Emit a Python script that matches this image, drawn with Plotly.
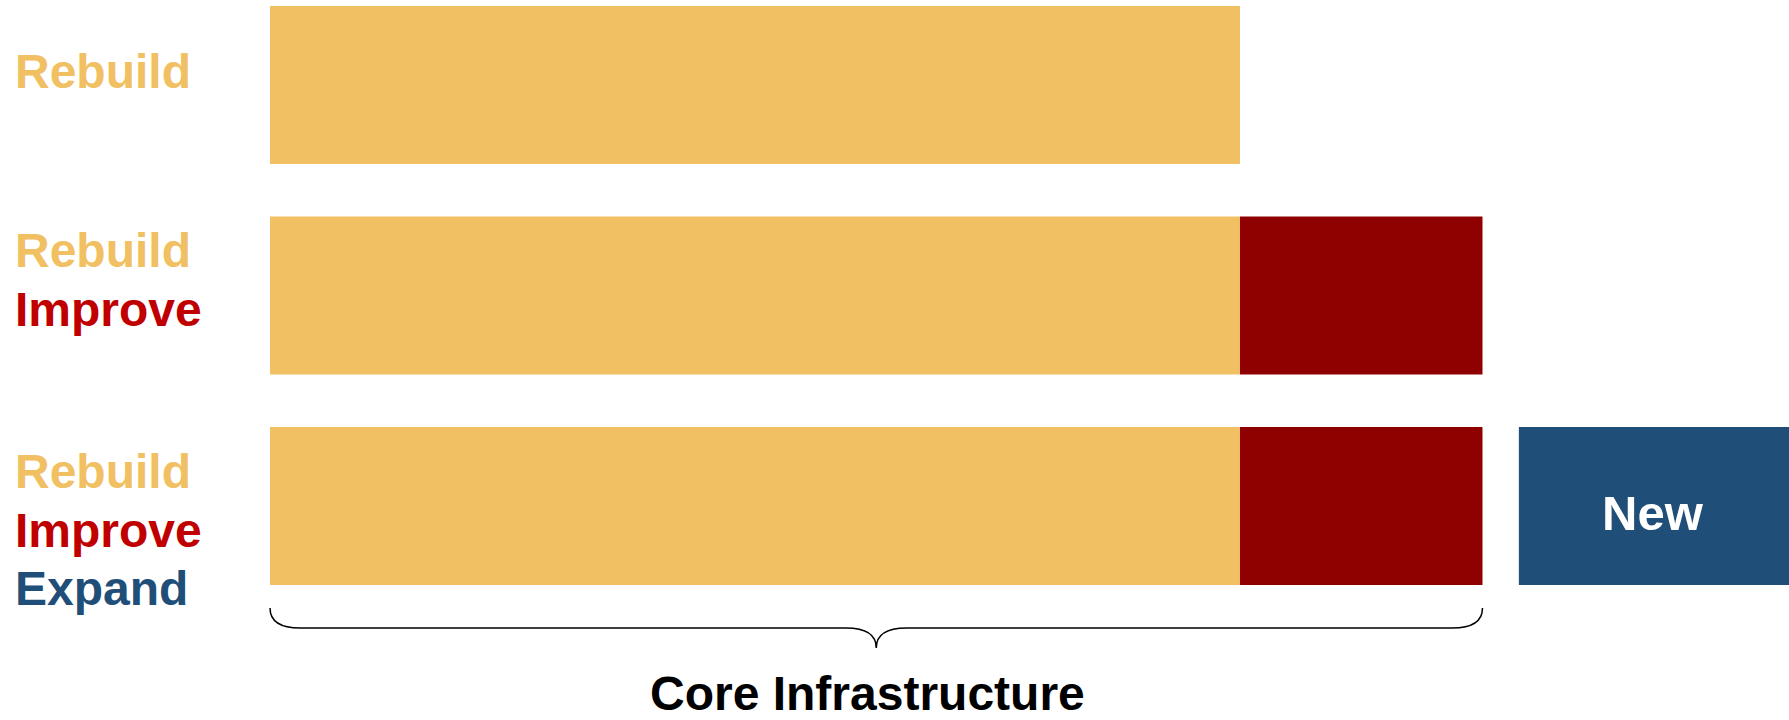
import plotly.graph_objects as go

# ---- data ----
rows = [2, 1, 0]                      # row positions (top to bottom)
rebuild = [80, 80, 80]
improve_rows = [1, 0]
improve = [20, 20]
new_rows = [0]
new_base = [103]
new_len = [23]
row_labels = [["Rebuild"], ["Rebuild", "Improve"], ["Rebuild", "Improve", "Expand"]]
brace_label = "Core Infrastructure"
new_label = "New"

YELLOW = "#F0C062"
DARKRED = "#8F0000"
BLUE = "#1F4E79"
label_colors = {"Rebuild": "#F0C062", "Improve": "#C00000", "Expand": "#1F4E79"}
FONT = "Liberation Sans, Arial, sans-serif"

fig = go.Figure()
fig.add_trace(go.Bar(y=rows, x=rebuild, base=[0] * len(rows), orientation="h",
                     marker=dict(color=YELLOW, line=dict(width=0)), width=0.75,
                     hoverinfo="skip"))
imp_base = [rebuild[rows.index(r)] for r in improve_rows]
fig.add_trace(go.Bar(y=improve_rows, x=improve, base=imp_base, orientation="h",
                     marker=dict(color=DARKRED, line=dict(width=0)), width=0.75,
                     hoverinfo="skip"))
fig.add_trace(go.Bar(y=new_rows, x=new_len, base=new_base, orientation="h",
                     marker=dict(color=BLUE, line=dict(width=0)), width=0.75,
                     hoverinfo="skip"))

annotations = []
# "New" label, centred in the visible part of the blue box
annotations.append(dict(x=114.06, y=new_rows[0], xref="x", yref="y",
                        text="<b>" + new_label + "</b>", showarrow=False,
                        xanchor="center", yanchor="middle", yshift=-7,
                        font=dict(size=49, color="white", family=FONT)))

# row labels
shifts = [[14], [45.5, -13.5], [35, -24, -82]]
for r, labs, sh in zip(rows, row_labels, shifts):
    for lab, s in zip(labs, sh):
        annotations.append(dict(x=-21.2, y=r, xref="x", yref="y", text="<b>" + lab + "</b>",
                                showarrow=False, xanchor="left", yanchor="middle",
                                yshift=s,
                                font=dict(size=48, color=label_colors[lab], family=FONT)))

# brace under the core bars
x0 = 0
x1 = rebuild[-1] + improve[-1]
mid = (x0 + x1) / 2
rx = 2.5
yTop, yMid, yTip = -0.4846, -0.5796, -0.6746
path = (f"M {x0},{yTop} Q {x0},{yMid} {x0 + rx},{yMid} L {mid - rx},{yMid} "
        f"Q {mid},{yMid} {mid},{yTip} Q {mid},{yMid} {mid + rx},{yMid} "
        f"L {x1 - rx},{yMid} Q {x1},{yMid} {x1},{yTop}")
fig.add_shape(type="path", path=path, xref="x", yref="y",
              line=dict(color="black", width=1.5))
annotations.append(dict(x=mid, y=-0.9026, xref="x", yref="y",
                        text="<b>" + brace_label + "</b>", showarrow=False,
                        xshift=-9, yshift=3, xanchor="center", yanchor="middle",
                        font=dict(size=48, color="black", family=FONT)))

fig.update_layout(
    width=1789, height=720,
    margin=dict(l=0, r=0, t=0, b=0),
    paper_bgcolor="white", plot_bgcolor="white",
    barmode="overlay", showlegend=False,
    xaxis=dict(visible=False, range=[-22.27, 125.28], fixedrange=True),
    yaxis=dict(visible=False, range=[-1.0166, 2.404], fixedrange=True),
    annotations=annotations,
)
fig.write_html("out.html")
